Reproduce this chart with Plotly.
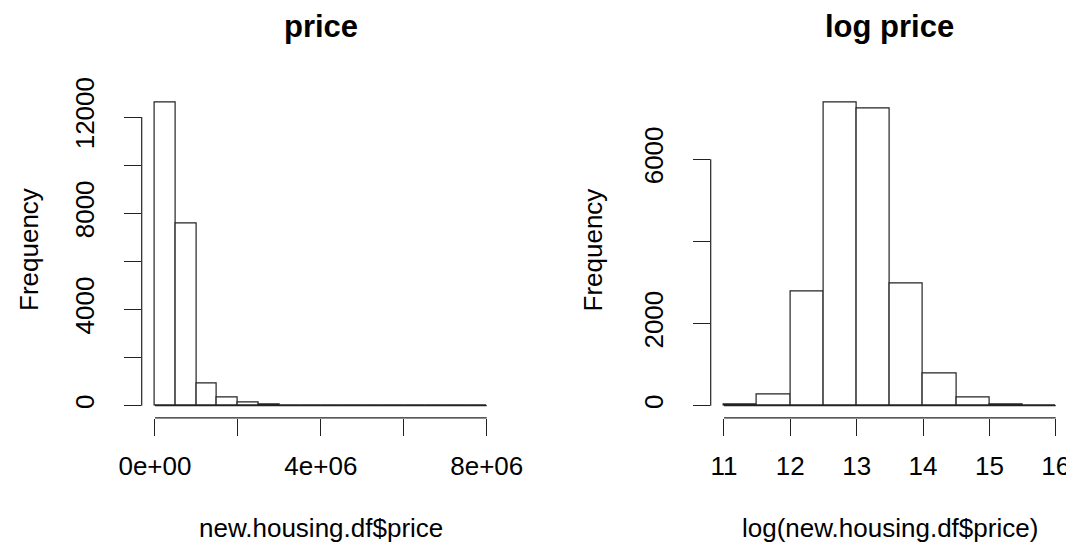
import plotly.graph_objects as go

# ---- data ----
price_breaks = [0, 500000, 1000000, 1500000, 2000000, 2500000, 3000000, 3500000, 4000000,
                4500000, 5000000, 5500000, 6000000, 6500000, 7000000, 7500000, 8000000]
price_counts = [12600, 7590, 930, 360, 112, 45, 22, 12, 4, 3, 2, 0, 0, 0, 1, 1]

logp_breaks = [11.0, 11.5, 12.0, 12.5, 13.0, 13.5, 14.0, 14.5, 15.0, 15.5, 16.0]
logp_counts = [25, 278, 2786, 7380, 7243, 2971, 789, 204, 35, 5]

price_xticks = [0, 2000000, 4000000, 6000000, 8000000]
price_xlabels = ["0e+00", "", "4e+06", "", "8e+06"]
price_yticks = [0, 2000, 4000, 6000, 8000, 10000, 12000]
price_ylabels = ["0", "", "4000", "", "8000", "", "12000"]

logp_xticks = [11, 12, 13, 14, 15, 16]
logp_xlabels = ["11", "12", "13", "14", "15", "16"]
logp_yticks = [0, 2000, 4000, 6000]
logp_ylabels = ["0", "2000", "", "6000"]

titles = ["price", "log price"]
xlabels = ["new.housing.df$price", "log(new.housing.df$price)"]
ylabel = "Frequency"

# ---- layout constants ----
OFF = 8                      # page body margin of the browser
W, H = 1074 - OFF, 552 - 2 * OFF
FONT = "Liberation Sans, Arial, sans-serif"
FS = 26
LINE = "#222222"


def fx(px):
    return (px - OFF) / W


def fy(py):
    return 1 - (py - OFF) / H


xdoms = [[fx(141.7), fx(500.0)], [fx(710.7), fx(1069.0)]]
ydom = [fy(417.8), fy(90.5)]

fig = go.Figure()

panels = [
    (price_breaks, price_counts, price_xticks, price_xlabels, price_yticks, price_ylabels),
    (logp_breaks, logp_counts, logp_xticks, logp_xlabels, logp_yticks, logp_ylabels),
]

for i, (br, ct, xt, xl, yt, yl) in enumerate(panels):
    xa = "x" if i == 0 else "x2"
    ya = "y" if i == 0 else "y2"
    centers = [(br[k] + br[k + 1]) / 2 for k in range(len(ct))]
    widths = [br[k + 1] - br[k] for k in range(len(ct))]
    # baseline of the histogram (zero-height bins drawn as a line in R)
    fig.add_trace(go.Scatter(x=[br[0], br[-1]], y=[0, 0], mode="lines",
                             line=dict(color=LINE, width=1.2), xaxis=xa, yaxis=ya,
                             showlegend=False, hoverinfo="skip"))
    fig.add_trace(go.Bar(x=centers, y=ct, width=widths, xaxis=xa, yaxis=ya,
                         marker=dict(color="white", line=dict(color=LINE, width=1.2)),
                         showlegend=False))
    rng = br[-1] - br[0]
    xr = [br[0] - 0.04 * rng, br[-1] + 0.04 * rng]
    m = max(ct)
    yr = [-0.04 * m, 1.04 * m]
    axcommon = dict(showgrid=False, zeroline=False, showline=False, ticks="outside",
                    ticklen=17, tickwidth=1.2, tickcolor=LINE, automargin=False,
                    tickfont=dict(family=FONT, size=FS, color="black"))
    xkey = "xaxis" if i == 0 else "xaxis2"
    ykey = "yaxis" if i == 0 else "yaxis2"
    fig.layout[xkey] = dict(domain=xdoms[i], range=xr, anchor=ya, tickmode="array",
                            tickvals=xt, ticktext=xl, ticklabelstandoff=8, **axcommon)
    fig.layout[ykey] = dict(domain=ydom, range=yr, anchor=xa, tickmode="array",
                            tickvals=yt, ticktext=yl, tickangle=-90,
                            ticklabelstandoff=19, **axcommon)
    # R-style axis lines spanning first to last tick
    fig.add_shape(type="line", xref=xa, yref="paper", x0=xt[0], x1=xt[-1],
                  y0=ydom[0], y1=ydom[0], line=dict(color=LINE, width=1.2))
    fig.add_shape(type="line", xref="paper", yref=ya, x0=xdoms[i][0], x1=xdoms[i][0],
                  y0=yt[0], y1=yt[-1], line=dict(color=LINE, width=1.2))
    cx = (xdoms[i][0] + xdoms[i][1]) / 2
    fig.add_annotation(text="<b>" + titles[i] + "</b>", x=cx, y=fy(26),
                       xref="paper", yref="paper", showarrow=False,
                       xanchor="center", yanchor="middle",
                       font=dict(family=FONT, size=31, color="black"))
    fig.add_annotation(text=xlabels[i], x=cx, y=fy(528),
                       xref="paper", yref="paper", showarrow=False,
                       xanchor="center", yanchor="middle",
                       font=dict(family=FONT, size=FS, color="black"))
    fxx = fx(29) if i == 0 else fx(592.5)
    fig.add_annotation(text=ylabel, x=fxx, y=fy(250), textangle=-90,
                       xref="paper", yref="paper", showarrow=False,
                       xanchor="center", yanchor="middle",
                       font=dict(family=FONT, size=FS, color="black"))

fig.update_layout(width=W, height=H,
                  margin=dict(l=0, r=0, t=0, b=0, pad=0, autoexpand=False),
                  paper_bgcolor="white", plot_bgcolor="white", bargap=0,
                  font=dict(family=FONT, size=FS, color="black"))

fig.write_html("out.html")
